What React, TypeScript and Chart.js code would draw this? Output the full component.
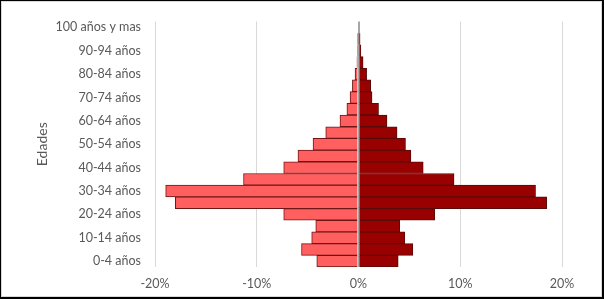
import React, { useEffect, useRef } from "react";
import { Chart, registerables } from "chart.js";

Chart.register(...registerables);

const categories = [
  "0-4 años", "5-9 años", "10-14 años", "15-19 años", "20-24 años",
  "25-29 años", "30-34 años", "35-39 años", "40-44 años", "45-49 años",
  "50-54 años", "55-59 años", "60-64 años", "65-69 años", "70-74 años",
  "75-79 años", "80-84 años", "85-89 años", "90-94 años", "95-99 años",
  "100 años y mas",
];

// left side (negative percentages)
const leftValues = [
  -4.1, -5.6, -4.6, -4.2, -7.35, -18.0, -18.95, -11.3, -7.35, -5.95,
  -4.47, -3.22, -1.82, -1.14, -0.83, -0.6, -0.34, -0.15, -0.08, -0.04, 0,
];

// right side (positive percentages)
const rightValues = [
  3.9, 5.34, 4.55, 4.05, 7.5, 18.5, 17.4, 9.39, 6.36, 5.15,
  4.62, 3.79, 2.8, 1.97, 1.33, 1.2, 0.8, 0.45, 0.23, 0.15, 0,
];

const xTicks = [-20, -10, 0, 10, 20];

const FONT = "Lato, 'Liberation Sans', sans-serif";
const TEXT = "#595959";

export default function App() {
  const ref = useRef<HTMLCanvasElement | null>(null);

  useEffect(() => {
    document.body.style.margin = "0";
    const ctx = ref.current!;
    const chart = new Chart(ctx, {
      type: "bar",
      data: {
        labels: categories,
        datasets: [
          {
            data: leftValues,
            backgroundColor: "#FF5F5F",
            borderColor: "#6e1515",
            borderWidth: 1,
            barPercentage: 1,
            categoryPercentage: 1,
            borderSkipped: "start",
          },
          {
            data: rightValues,
            backgroundColor: "#990000",
            borderColor: "#5a0a0a",
            borderWidth: 1,
            barPercentage: 1,
            categoryPercentage: 1,
            borderSkipped: "start",
          },
        ],
      },
      options: {
        indexAxis: "y",
        animation: false,
        responsive: false,
        maintainAspectRatio: false,
        layout: { padding: { left: 30, top: 21, right: 42, bottom: 0 } },
        plugins: {
          legend: { display: false },
          tooltip: { enabled: false },
        },
        scales: {
          x: {
            stacked: true,
            min: -20,
            max: 20,
            afterBuildTicks: (scale: any) => {
              scale.ticks = xTicks.map((v) => ({ value: v }));
            },
            afterFit: (scale: any) => {
              scale.height = 32;
            },
            ticks: {
              color: TEXT,
              font: { family: FONT, size: 12.5 },
              padding: 9,
              callback: (v: any) => `${v}%`,
            },
            grid: {
              drawTicks: false,
              color: (c: any) => (c.tick && c.tick.value === 0 ? "#a6a6a6" : "#d9d9d9"),
              lineWidth: (c: any) => (c.tick && c.tick.value === 0 ? 2 : 1),
            },
            border: { display: false },
          },
          y: {
            stacked: true,
            reverse: true,
            afterFit: (scale: any) => {
              scale.width = 125;
            },
            ticks: {
              autoSkip: false,
              color: TEXT,
              font: { family: FONT, size: 12.5 },
              padding: 14,
              callback: (_v: any, i: number) => (i % 2 === 0 ? categories[i] : ""),
            },
            grid: { display: false, drawTicks: false },
            border: { display: false },
            title: {
              display: true,
              text: "Edades",
              color: TEXT,
              font: { family: FONT, size: 14 },
              padding: 4,
            },
          },
        },
      },
    });
    return () => chart.destroy();
  }, []);

  return (
    <div style={{ position: "absolute", left: 0, top: 0, width: 604, height: 299, background: "#fff" }}>
      <canvas ref={ref} width={604} height={299} style={{ position: "absolute", left: 0, top: 0, width: 604, height: 299 }} />
      <div
        style={{
          position: "absolute",
          left: 0,
          top: 0,
          width: 604,
          height: 299,
          boxSizing: "border-box",
          borderTop: "1px solid #000",
          borderLeft: "1px solid #000",
          borderRight: "2px solid #000",
          borderBottom: "2px solid #000",
          pointerEvents: "none",
        }}
      >
        <div
          style={{
            position: "absolute",
            inset: 0,
            border: "1px solid #d9d9d9",
          }}
        />
      </div>
    </div>
  );
}
